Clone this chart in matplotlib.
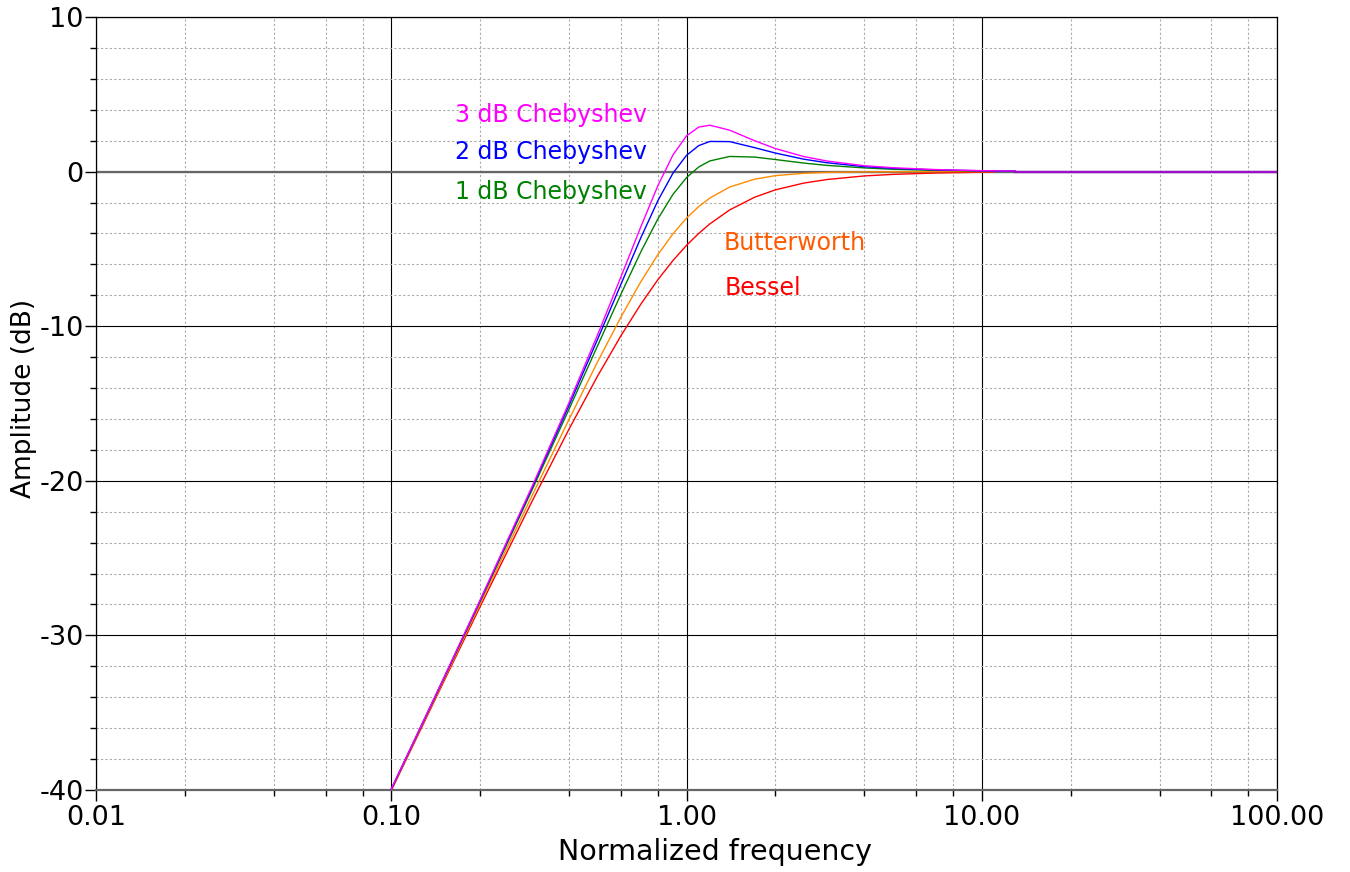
#!/usr/bin/env python3
"""
plot.py — 2nd-order high-pass filter amplitude responses (Bessel / Butterworth / Chebyshev)
"""

import numpy as np
import matplotlib
matplotlib.use("Agg")
import matplotlib.pyplot as plt
from matplotlib.ticker import LogLocator, FormatStrFormatter, NullFormatter, MultipleLocator

# ═══════════════════════════════════════════════════════════════
# data (normalized frequency, dB)
# ═══════════════════════════════════════════════════════════════
FREQ = [0.1, 0.15, 0.2, 0.3, 0.4, 0.5, 0.6, 0.7, 0.8, 0.9, 1.0, 1.1, 1.2,
        1.4, 1.7, 2.0, 2.5, 3.0, 4.0, 5.0, 7.0, 10.0, 11.0, 13.0]

BESSEL = [-40.04, -33.06, -28.14, -21.32, -16.66, -13.22, -10.61, -8.58, -6.99,
          -5.75, -4.77, -4.00, -3.38, -2.48, -1.66, -1.18, -0.74, -0.51, -0.28,
          -0.18, -0.09, -0.04, -0.03]
BUTTERWORTH = [-40.00, -32.96, -27.96, -20.95, -16.03, -12.30, -9.40, -7.13,
               -5.37, -4.02, -3.01, -2.26, -1.71, -1.00, -0.49, -0.26, -0.11,
               -0.05, -0.02, -0.01, 0.00, 0.00, 0.00]
CHEB_1DB = [-39.96, -32.87, -27.81, -20.58, -15.37, -11.26, -7.92, -5.20, -3.06,
            -1.47, -0.39, 0.30, 0.69, 0.98, 0.94, 0.78, 0.55, 0.40, 0.24, 0.15,
            0.08, 0.04, 0.03, 0.03]
CHEB_2DB = [-39.95, -32.84, -27.75, -20.45, -15.12, -10.84, -7.28, -4.29, -1.88,
            -0.10, 1.05, 1.68, 1.95, 1.94, 1.55, 1.20, 0.80, 0.57, 0.32, 0.21,
            0.11, 0.05, 0.04, 0.03]
CHEB_3DB = [-39.94, -32.82, -27.71, -20.36, -14.95, -10.55, -6.80, -3.58, -0.91,
            1.08, 2.31, 2.88, 3.00, 2.68, 2.00, 1.49, 0.97, 0.68, 0.38, 0.25,
            0.13, 0.06, 0.05, 0.04]

TAIL_FREQ = [13.0, 100.0]
TAIL_AMP = [0.0, 0.0]

LABELS = ["Bessel", "Butterworth", "1 dB Chebyshev", "2 dB Chebyshev", "3 dB Chebyshev"]
SERIES = [BESSEL, BUTTERWORTH, CHEB_1DB, CHEB_2DB, CHEB_3DB]

# 線色 / 標籤色
LINE_COLORS = ["#ff0000", "#ff8c00", "#008000", "#0000ff", "#ff00ff"]
TEXT_COLORS = ["#ff0000", "#ff5a00", "#008000", "#0000ff", "#ff00ff"]
# 標籤位置 (freq, dB)
TEXT_POS = [(1.35, -7.55), (1.34, -4.62), (0.165, -1.35), (0.165, 1.27), (0.165, 3.66)]

plt.rcParams.update({
    "font.family": "DejaVu Sans",
    "axes.unicode_minus": False,
})


def main():
    fig = plt.figure(figsize=(13.5, 8.72), dpi=100)
    ax = fig.add_axes([96 / 1350, 82 / 872, 1181 / 1350, 773 / 872])

    ax.set_xscale("log")
    ax.set_xlim(0.01, 100)
    ax.set_ylim(-40, 10)

    # ticks
    ax.xaxis.set_major_locator(LogLocator(base=10, numticks=10))
    ax.xaxis.set_minor_locator(LogLocator(base=10, subs=(2, 4, 6, 8), numticks=10))
    ax.xaxis.set_major_formatter(FormatStrFormatter("%.2f"))
    ax.xaxis.set_minor_formatter(NullFormatter())
    ax.yaxis.set_major_locator(MultipleLocator(10))
    ax.yaxis.set_minor_locator(MultipleLocator(2))
    ax.tick_params(which="major", direction="out", length=8, width=1,
                   labelsize=19.5, color="black")
    ax.tick_params(which="minor", direction="out", length=4.5, width=1, color="black")
    ax.tick_params(axis="x", which="major", pad=3)
    ax.tick_params(axis="y", which="major", pad=1)

    # grid
    ax.grid(which="major", color="black", linestyle="-", linewidth=0.8, zorder=0)
    ax.grid(which="minor", color="#aaaaaa", linestyle=(0, (2, 2)), linewidth=0.8, zorder=0)
    ax.set_axisbelow(True)
    ax.axhline(0, color="#666666", linewidth=1.6, zorder=1)

    for side in ("left", "top", "right"):
        ax.spines[side].set_color("black")
        ax.spines[side].set_linewidth(0.9)
    ax.spines["bottom"].set_color("#666666")
    ax.spines["bottom"].set_linewidth(1.6)

    # curves
    for amp, c in zip(SERIES, LINE_COLORS):
        ax.plot(FREQ[:len(amp)], amp, color=c, linewidth=1.0, zorder=3)
    ax.plot(TAIL_FREQ, TAIL_AMP, color="#9b10c8", linewidth=1.7, zorder=3)

    for lbl, (fx, fy), c in zip(LABELS, TEXT_POS, TEXT_COLORS):
        ax.text(fx, fy, lbl, color=c, fontsize=17, ha="left", va="center", zorder=4)

    ax.set_xlabel("Normalized frequency", fontsize=20.5, labelpad=4)
    ax.xaxis.set_label_coords(0.524, -0.062)
    ax.set_ylabel("Amplitude (dB)", fontsize=19, labelpad=2)
    ax.yaxis.set_label_coords(-0.050, 0.507)

    fig.savefig("out.png", dpi=100)
    plt.close(fig)


if __name__ == "__main__":
    main()
